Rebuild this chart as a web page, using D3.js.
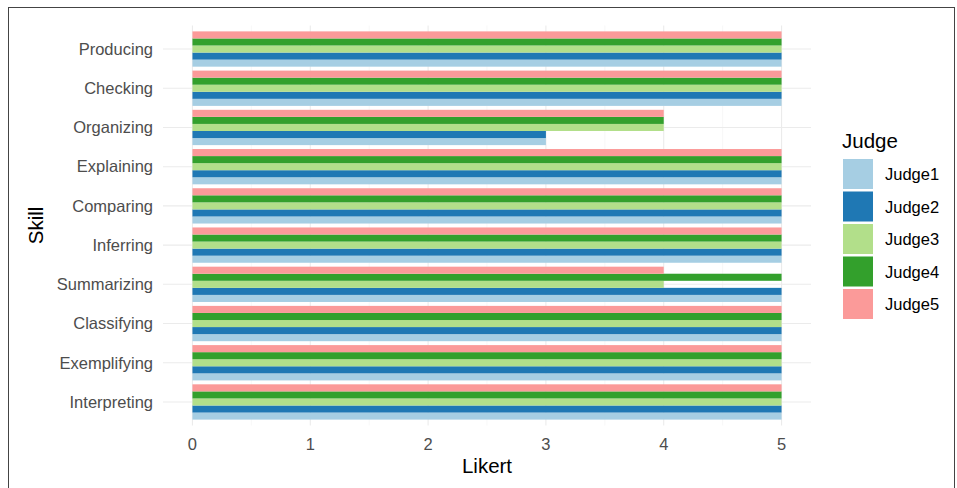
<!DOCTYPE html>
<html><head><meta charset="utf-8">
<script src="https://cdn.jsdelivr.net/npm/d3@7"></script>
<style>body{margin:0;background:#fff;}svg{display:block;font-family:"Liberation Sans",Arial,sans-serif;}</style>
</head><body>
<svg id="c" width="957" height="488"></svg>
<script>
const skills = ["Producing","Checking","Organizing","Explaining","Comparing","Inferring","Summarizing","Classifying","Exemplifying","Interpreting"];
const judges = ["Judge1","Judge2","Judge3","Judge4","Judge5"];
const colors = ["#A6CEE3","#1F78B4","#B2DF8A","#33A02C","#FB9A99"];
const judge1 = [5,5,3,5,5,5,5,5,5,5];
const judge2 = [5,5,3,5,5,5,5,5,5,5];
const judge3 = [5,5,4,5,5,5,4,5,5,5];
const judge4 = [5,5,4,5,5,5,5,5,5,5];
const judge5 = [5,5,4,5,5,5,4,5,5,5];
const xTicks = [0,1,2,3,4,5];
const series = [judge1,judge2,judge3,judge4,judge5];

const svg = d3.select("#c");
svg.append("rect").attr("x",8.5).attr("y",7.5).attr("width",946).attr("height",490)
  .attr("fill","none").attr("stroke","#444").attr("stroke-width",1);

const panel = {l:163, r:811, t:25.5, b:425.5};
const x = d3.scaleLinear().domain([-0.25,5.25]).range([panel.l,panel.r]);
const step = (panel.b-panel.t)/(skills.length+0.2);
const yc = d3.scalePoint().domain(skills).range([panel.t+0.6*step, panel.b-0.6*step]);
const groupW = 0.9*step;
const sub = d3.scaleBand().domain(judges.slice().reverse()).range([-groupW/2, groupW/2]);

const g = svg.append("g");
d3.range(0.5,5,1).forEach(v=>{
  g.append("line").attr("x1",x(v)).attr("x2",x(v)).attr("y1",panel.t).attr("y2",panel.b)
   .attr("stroke","#f3f3f3").attr("stroke-width",0.6);
});
xTicks.forEach(v=>{
  g.append("line").attr("x1",x(v)).attr("x2",x(v)).attr("y1",panel.t).attr("y2",panel.b)
   .attr("stroke","#ebebeb").attr("stroke-width",1.1);
});
skills.forEach(s=>{
  g.append("line").attr("x1",panel.l).attr("x2",panel.r).attr("y1",yc(s)).attr("y2",yc(s))
   .attr("stroke","#ebebeb").attr("stroke-width",1.1);
});

judges.forEach((j,ji)=>{
  g.selectAll(null).data(skills).enter().append("rect")
    .attr("x",x(0))
    .attr("y",(s)=>yc(s)+sub(j))
    .attr("width",(s,i)=>x(series[ji][i])-x(0))
    .attr("height",sub.bandwidth())
    .attr("fill",colors[ji]);
});

skills.forEach(s=>{
  svg.append("text").attr("x",153).attr("y",yc(s)).attr("dy","0.35em")
    .attr("text-anchor","end").attr("font-size",16.5).attr("fill","#4d4d4d").text(s);
});
xTicks.forEach(v=>{
  svg.append("text").attr("x",x(v)).attr("y",444).attr("dy","0.35em")
    .attr("text-anchor","middle").attr("font-size",16.5).attr("fill","#4d4d4d").text(v);
});
svg.append("text").attr("x",x(2.5)).attr("y",466).attr("dy","0.35em").attr("text-anchor","middle")
  .attr("font-size",20.5).attr("fill","#000").text("Likert");
svg.append("text").attr("transform",`translate(36,${(panel.t+panel.b)/2}) rotate(-90)`).attr("dy","0.35em")
  .attr("text-anchor","middle").attr("font-size",20.5).attr("fill","#000").text("Skill");

const lg = svg.append("g");
lg.append("text").attr("x",842).attr("y",141).attr("dy","0.35em").attr("font-size",20.5).attr("fill","#000").text("Judge");
judges.forEach((j,i)=>{
  const yy = 159 + i*32.5;
  lg.append("rect").attr("x",843).attr("y",yy).attr("width",30).attr("height",30).attr("fill",colors[i]);
  lg.append("text").attr("x",885).attr("y",yy+15.5).attr("dy","0.35em").attr("font-size",16.5).attr("fill","#000").text(j);
});
</script>
</body></html>
